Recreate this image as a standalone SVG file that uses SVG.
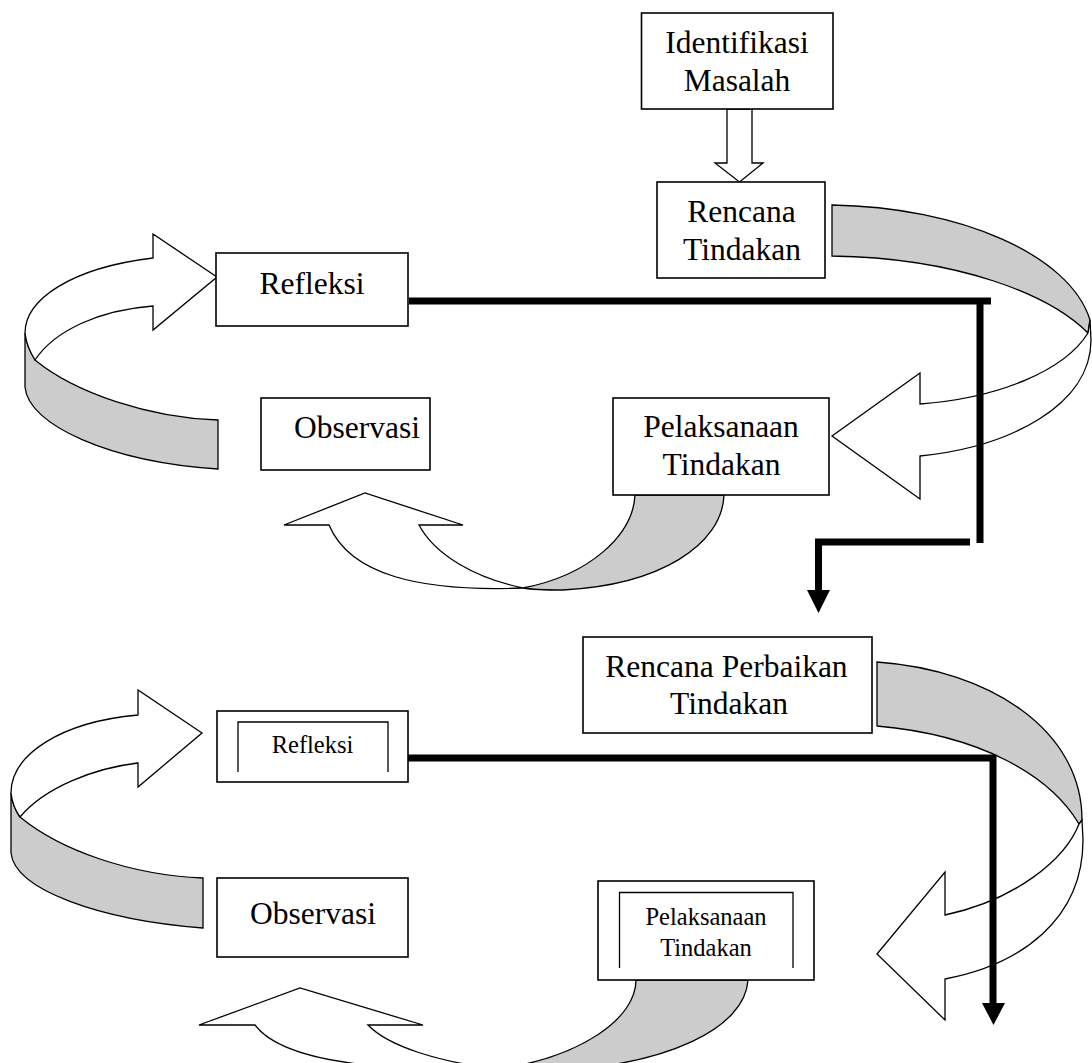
<svg xmlns="http://www.w3.org/2000/svg" width="1092" height="1063" viewBox="0 0 1092 1063">
<style>
.box{fill:#fff;stroke:#000;stroke-width:1.6}
.frame{fill:none;stroke:#000;stroke-width:1.3}
.rw{fill:#fff;stroke:#000;stroke-width:1.3;stroke-linejoin:miter}
.rg{fill:#cccccc;stroke:#000;stroke-width:1.3}
.thick{fill:none;stroke:#000;stroke-width:7;stroke-linejoin:miter}
.head{fill:#000;stroke:none}
.t{font-family:"Liberation Serif","Times New Roman",serif;font-size:31.5px;text-anchor:middle;fill:#000}
.ts{font-size:24.5px}
</style>
<rect width="1092" height="1063" fill="#fff"/>
<g id="connectors">
  <!-- Identifikasi -> Rencana hollow arrow -->
  <path class="rw" d="M727,109 L752,109 L752,163 L763,163 L739.5,182 L715,163 L727,163 Z"/>
  <!-- top-right loop: Rencana -> Pelaksanaan -->
  <path class="rg" d="M832,205 C960,207 1070,255 1090,320 L1088,333 C1050,295 960,258 832,256 Z"/>
  <path class="rw" d="M1088,333 C1065,370 1000,398 920,404 L920,373 L832,436 L920,499 L920,456 C1010,447 1091,405 1091,340 L1090,320 Z"/>
  <!-- top bottom loop: Pelaksanaan -> Observasi -->
  <path class="rg" d="M635,495 C633,535 590,575 523,588 C535,590 550,590 563,590 C660,585 722,545 724,495 Z"/>
  <path class="rw" d="M284,525 L365,493 L463,525 L419,525 C435,555 475,578 523,588 C420,592 350,575 329,525 Z"/>
  <!-- top-left loop: Observasi -> Refleksi -->
  <path class="rg" d="M218,420 C150,418 75,393 35,360 C30,352 26,342 25,333 L25,387 C28,425 110,462 218,469 Z"/>
  <path class="rw" d="M25,333 C25,300 70,268 153,258 L153,234 L217,277 L153,330 L153,306 C100,310 55,330 35,360 C30,352 26,342 25,333 Z"/>
  <!-- bottom-right loop: Rencana Perbaikan -> Pelaksanaan -->
  <path class="rg" d="M877,662 C990,670 1082,730 1082,820 L1079,824 C1050,775 980,735 877,726 Z"/>
  <path class="rw" d="M1079,824 C1065,860 1015,900 945,915 L945,872 L877,954 L945,1020 L945,979 C1020,965 1083,920 1083,840 L1082,820 Z"/>
  <!-- bottom loop: Pelaksanaan -> Observasi -->
  <path class="rg" d="M636,980 C636,1018 582,1057 498,1069 C513,1071 532,1071 548,1071 C668,1066 745,1028 748,980 Z"/>
  <path class="rw" d="M199,1025 L300,988 L423,1025 L368,1025 C388,1046 438,1062 498,1069 C369,1072 281,1060 255,1025 Z"/>
  <!-- bottom-left loop: Observasi -> Refleksi -->
  <path class="rg" d="M203,878 C130,875 60,850 20,817 C15,810 12,802 11,793 L11,853 C15,890 100,920 203,928 Z"/>
  <path class="rw" d="M11,793 C11,755 60,722 138,715 L138,690 L202,733 L138,787 L138,763 C95,768 45,787 20,817 C15,810 12,802 11,793 Z"/>
  <!-- thick lines -->
  <polyline class="thick" points="409,301 991,301"/>
  <line class="thick" x1="980" y1="301" x2="980" y2="543"/>
  <polyline class="thick" points="970,542 818.5,542 818.5,592"/>
  <polygon class="head" points="807,590 830,590 818.5,613"/>
  <polyline class="thick" points="408,758 993,758 993,1005"/>
  <polygon class="head" points="982,1003 1005,1003 993.5,1025"/>
</g>
<g id="identifikasi">
  <rect class="box" x="641.5" y="13" width="191.5" height="96"/>
  <text class="t" x="737" y="53">Identifikasi</text>
  <text class="t" x="737" y="90.5">Masalah</text>
</g>
<g id="rencana">
  <rect class="box" x="657" y="182" width="168" height="96"/>
  <text class="t" x="741.5" y="221.5">Rencana</text>
  <text class="t" x="742" y="260">Tindakan</text>
</g>
<g id="refleksi1">
  <rect class="box" x="216" y="253" width="192" height="73"/>
  <text class="t" x="312" y="294">Refleksi</text>
</g>
<g id="observasi1">
  <rect class="box" x="261" y="398" width="169" height="72"/>
  <text class="t" x="357" y="438">Observasi</text>
</g>
<g id="pelaksanaan1">
  <rect class="box" x="613" y="398" width="216" height="97"/>
  <text class="t" x="721" y="437">Pelaksanaan</text>
  <text class="t" x="721.5" y="475">Tindakan</text>
</g>
<g id="rencana-perbaikan">
  <rect class="box" x="583" y="637" width="289" height="96"/>
  <text class="t" x="726.5" y="676.5">Rencana Perbaikan</text>
  <text class="t" x="729" y="714">Tindakan</text>
</g>
<g id="refleksi2">
  <rect class="box" x="217" y="711" width="191" height="71"/>
  <polyline class="frame" points="238,772 238,722 388,722 388,772"/>
  <text class="t ts" x="312.5" y="752.5">Refleksi</text>
</g>
<g id="observasi2">
  <rect class="box" x="217" y="878" width="191" height="79"/>
  <text class="t" x="313" y="924">Observasi</text>
</g>
<g id="pelaksanaan2">
  <rect class="box" x="598" y="881" width="216" height="99"/>
  <polyline class="frame" points="619.5,968 619.5,892.5 793,892.5 793,968"/>
  <text class="t ts" x="706" y="925">Pelaksanaan</text>
  <text class="t ts" x="706" y="955.5">Tindakan</text>
</g>
</svg>
